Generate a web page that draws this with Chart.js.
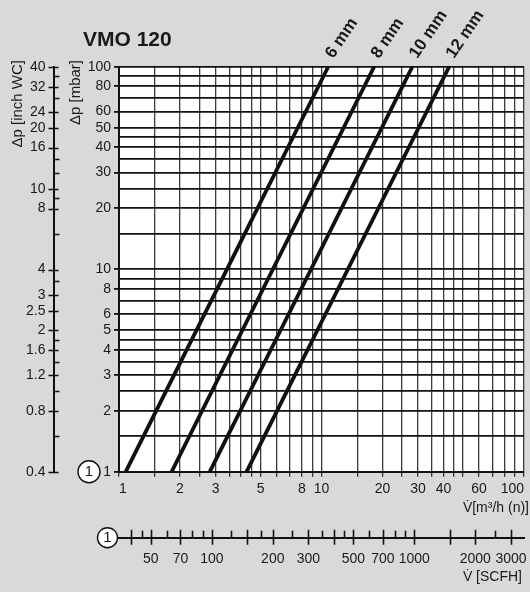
<!DOCTYPE html>
<html>
<head>
<meta charset="utf-8">
<script src="https://cdn.jsdelivr.net/npm/chart.js@4/dist/chart.umd.min.js"></script>
<style>
html,body{margin:0;padding:0;background:#d9d9d9;}
#wrap{width:530px;height:592px;position:relative;}
</style>
</head>
<body>
<div id="wrap"><canvas id="c"></canvas></div>
<script>
// ---------- data ----------
const chartTitle = 'VMO 120';
const orificeLabels = ['6 mm', '8 mm', '10 mm', '12 mm'];
const pressureEnds = [1, 100];            // Δp [mbar] at both line ends
const flow6mm  = [1.08, 10.8];            // V [m³/h (n)]
const flow8mm  = [1.82, 18.2];
const flow10mm = [2.81, 28.1];
const flow12mm = [4.27, 42.7];
const orificeFlows = [flow6mm, flow8mm, flow10mm, flow12mm];

const xGridValues = [1,1.5,2,2.5,3,3.5,4,4.5,5,6,7,8,9,10,15,20,25,30,35,40,45,50,60,70,80,90,100];
const xTickLabels = [1,2,3,5,8,10,20,30,40,60,100];
const yGridValues = [1,1.5,2,2.5,3,3.5,4,4.5,5,6,7,8,9,10,15,20,25,30,35,40,45,50,60,70,80,90,100];
const yTickLabels = [1,2,3,4,5,6,8,10,20,30,40,50,60,80,100];

const mbarToInchWC = 0.4015;
const inchTickLabels = [0.4,0.8,1.2,1.6,2,2.5,3,4,8,10,16,20,24,32,40];
const inchMinorTicks = [0.6,1.0,1.4,1.8,3.5,6,9,12,14,28,36];

const m3hToScfh = 34.8;
const scfhTickLabels = [50,70,100,200,300,500,700,1000,2000,3000];
const scfhLongTicks = [40,150,400,1500];
const scfhShortTicks = [45,60,80,90,125,175,250,350,450,600,800,900,2500];

const xTitle = 'V\u0307[m\u00B3/h (n)]';
const x2Title = 'V\u0307 [SCFH]';
const yTitle = '\u0394p [mbar]';
const y2Title = '\u0394p [inch WC]';

// ---------- style ----------
const FONT = '"Liberation Sans", Arial, sans-serif';
const INK = '#1a1a1a';

const decor = {
  id: 'decor',
  beforeDraw(chart) {
    const {ctx, chartArea: a} = chart;
    ctx.save();
    ctx.fillStyle = '#ffffff';
    ctx.fillRect(a.left, a.top, a.right - a.left, a.bottom - a.top);
    ctx.restore();
  },
  afterDraw(chart) {
    const {ctx, scales} = chart;
    const xs = scales.x, ys = scales.y, x2 = scales.x2, y2 = scales.y2;
    ctx.save();
    ctx.fillStyle = INK;
    ctx.strokeStyle = '#111';

    // main title
    ctx.font = 'bold 21px ' + FONT;
    ctx.textAlign = 'left';
    ctx.textBaseline = 'middle';
    ctx.fillText(chartTitle, 83, 40);

    // rotated axis titles
    ctx.font = '15px ' + FONT;
    [[y2Title, 18], [yTitle, 76]].forEach(([t, x]) => {
      ctx.save();
      ctx.translate(x, 60);
      ctx.rotate(-Math.PI / 2);
      ctx.textAlign = 'right';
      ctx.textBaseline = 'middle';
      ctx.fillText(t, 0, 0);
      ctx.restore();
    });

    // inch WC crossing ticks
    const bx = y2.right;
    ctx.lineWidth = 1.6;
    ctx.beginPath();
    inchTickLabels.forEach(v => {
      const py = Math.round(y2.getPixelForValue(v)) + 0.5;
      ctx.moveTo(bx - 5, py); ctx.lineTo(bx + 5, py);
    });
    inchMinorTicks.forEach(v => {
      const py = Math.round(y2.getPixelForValue(v)) + 0.5;
      ctx.moveTo(bx, py); ctx.lineTo(bx + 6, py);
    });
    ctx.stroke();

    // SCFH ticks
    const by = x2.top;
    ctx.beginPath();
    scfhTickLabels.concat(scfhLongTicks).forEach(v => {
      const px = Math.round(x2.getPixelForValue(v)) + 0.5;
      ctx.moveTo(px, by - 8); ctx.lineTo(px, by + 7);
    });
    scfhShortTicks.forEach(v => {
      const px = Math.round(x2.getPixelForValue(v)) + 0.5;
      ctx.moveTo(px, by - 7); ctx.lineTo(px, by);
    });
    ctx.stroke();

    // circled "1" markers
    ctx.lineWidth = 1.4;
    ctx.font = '15px ' + FONT;
    ctx.textAlign = 'center';
    ctx.textBaseline = 'middle';
    [[89, ys.getPixelForValue(1), 11], [107.5, by, 10]].forEach(([cx, cy, r]) => {
      ctx.beginPath();
      ctx.arc(cx, cy, r, 0, Math.PI * 2);
      ctx.fillStyle = '#ffffff';
      ctx.fill();
      ctx.stroke();
      ctx.fillStyle = INK;
      ctx.fillText('1', cx, cy + 0.5);
    });

    // axis titles (x)
    ctx.font = '14px ' + FONT;
    ctx.textAlign = 'right';
    ctx.textBaseline = 'middle';
    ctx.fillText(xTitle, 529, 508);
    ctx.fillText(x2Title, 522, 577);

    // orifice line labels
    ctx.font = 'bold 17px ' + FONT;
    ctx.textAlign = 'left';
    ctx.textBaseline = 'middle';
    orificeFlows.forEach((f, i) => {
      const ex = xs.getPixelForValue(f[f.length - 1]);
      const ey = ys.getPixelForValue(pressureEnds[pressureEnds.length - 1]);
      ctx.save();
      ctx.translate(ex + 1, ey - 10);
      ctx.rotate(-56 * Math.PI / 180);
      ctx.fillText(orificeLabels[i], 0, 0);
      ctx.restore();
    });
    ctx.restore();
  }
};

const labelIf = (list) => (v) => list.includes(v) ? String(v) : '';

new Chart(document.getElementById('c'), {
  type: 'scatter',
  data: {
    datasets: orificeFlows.map((f, i) => ({
      label: orificeLabels[i],
      data: pressureEnds.map((p, j) => ({x: f[j], y: p})),
      showLine: true,
      borderColor: '#111',
      borderWidth: 3.8,
      borderCapStyle: 'butt',
      pointRadius: 0
    }))
  },
  options: {
    responsive: true,
    maintainAspectRatio: false,
    animation: false,
    layout: {padding: {top: 66.7, right: 6, left: 0, bottom: 0}},
    plugins: {legend: {display: false}, tooltip: {enabled: false}},
    scales: {
      x: {
        type: 'logarithmic', position: 'bottom', min: 1, max: 100, weight: 0,
        afterBuildTicks: s => { s.ticks = xGridValues.map(v => ({value: v})); },
        afterFit: s => { s.height = 66; s.paddingLeft = 0; s.paddingRight = 0; },
        ticks: {autoSkip: false, maxRotation: 0, minRotation: 0, padding: 4, align: 'inner', color: INK,
                font: {family: FONT, size: 14}, callback: labelIf(xTickLabels)},
        grid: {color: '#3c3c3c', lineWidth: 1.3, drawTicks: true, tickLength: 5, tickColor: '#333'},
        border: {display: true, color: '#111', width: 2}
      },
      x2: {
        type: 'logarithmic', position: 'bottom', min: m3hToScfh * 1, max: m3hToScfh * 100, weight: 1,
        afterBuildTicks: s => { s.ticks = scfhTickLabels.map(v => ({value: v})); },
        afterFit: s => { s.height = 54.3; s.paddingLeft = 0; s.paddingRight = 0; },
        ticks: {autoSkip: false, maxRotation: 0, minRotation: 0, padding: 13, color: INK,
                font: {family: FONT, size: 14}, callback: labelIf(scfhTickLabels)},
        grid: {drawOnChartArea: false, drawTicks: false},
        border: {display: true, color: '#111', width: 2}
      },
      y: {
        type: 'logarithmic', position: 'left', min: 1, max: 100, weight: 0,
        afterBuildTicks: s => { s.ticks = yGridValues.map(v => ({value: v})); },
        afterFit: s => { s.width = 65.5; s.paddingTop = 0; s.paddingBottom = 0; },
        ticks: {autoSkip: false, padding: 3, color: INK,
                font: {family: FONT, size: 14}, callback: labelIf(yTickLabels)},
        grid: {color: '#111', lineWidth: 1.8, drawTicks: true, tickLength: 5,
               tickColor: c => (c.tick && yTickLabels.includes(c.tick.value)) ? '#111' : 'rgba(0,0,0,0)'},
        border: {display: true, color: '#111', width: 2}
      },
      y2: {
        type: 'logarithmic', position: 'left', min: mbarToInchWC * 1, max: mbarToInchWC * 100, weight: 1,
        afterBuildTicks: s => { s.ticks = inchTickLabels.concat(inchMinorTicks).sort((a, b) => a - b).map(v => ({value: v})); },
        afterFit: s => { s.width = 53.5; s.paddingTop = 0; s.paddingBottom = 0; },
        ticks: {autoSkip: false, padding: 8, color: INK,
                font: {family: FONT, size: 14}, callback: labelIf(inchTickLabels)},
        grid: {drawOnChartArea: false, drawTicks: false},
        border: {display: true, color: '#111', width: 2}
      }
    }
  },
  plugins: [decor]
});
</script>
</body>
</html>
